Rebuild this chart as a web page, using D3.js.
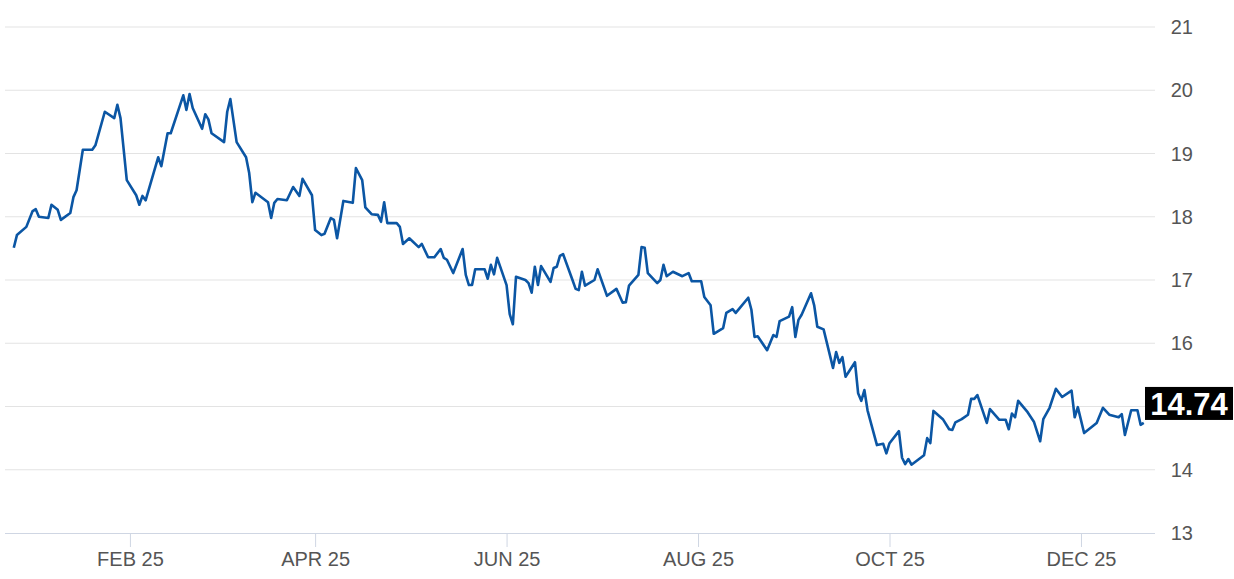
<!DOCTYPE html>
<html>
<head>
<meta charset="utf-8">
<script src="https://cdn.jsdelivr.net/npm/d3@7"></script>
<style>
  body { margin: 0; background: #fff; }
  text { font-family: "Liberation Sans", Arial, sans-serif; }
</style>
</head>
<body>
<svg id="chart" width="1234" height="579"></svg>
<script>
// day of year 2025 (Jan 1 = 1; negative = late Dec 2024)
var days = [-5,-4,-1,1,2,3,6,7,9,10,13,14,15,17,20,21,24,27,28,29,31,34,35,36,37,41,42,44,45,49,50,51,52,55,56,57,58,62,63,64,66,69,70,71,72,76,77,78,79,82,84,86,87,90,91,93,94,96,97,98,100,103,104,106,107,
  109,111,112,113,114,117,118,119,121,124,125,127,129,131,132,133,135,138,139,140,141,142,145,146,147,148,149,152,153,154,155,158,159,160,161,162,163,166,167,168,169,170,173,174,175,176,177,180,181,184,187,189,190,191,194,195,196,197,200,201,202,203,205,208,210,211,214,215,217,218,221,222,224,225,
  226,229,230,231,232,235,237,238,239,242,243,244,245,246,249,250,251,253,256,257,258,259,260,263,264,265,266,267,270,272,273,274,277,278,279,280,281,285,286,287,288,291,293,294,295,297,299,300,301,302,305,306,309,311,312,313,314,315,318,320,322,323,325,327,329,332,333,334,336,340,342,344,347,348,349,351,353,354,355];
var prices = [17.51,17.71,17.84,18.09,18.12,18.00,17.98,18.19,18.11,17.95,18.06,18.31,18.42,19.06,19.06,19.13,19.66,19.56,19.77,19.56,18.58,18.34,18.19,18.33,18.26,18.94,18.80,19.32,19.32,19.92,19.69,19.94,19.72,19.39,19.62,19.54,19.32,19.18,19.66,19.86,19.18,18.94,18.69,18.23,18.38,18.23,17.98,18.22,18.28,18.26,18.47,18.33,18.60,18.34,17.79,17.71,17.73,17.98,17.95,17.66,18.25,18.22,18.77,18.58,18.15,
  18.04,18.03,17.92,18.23,17.90,17.90,17.84,17.57,17.66,17.52,17.57,17.36,17.36,17.49,17.35,17.32,17.11,17.49,17.08,16.92,16.92,17.17,17.17,17.02,17.24,17.09,17.35,16.92,16.46,16.30,17.05,17.00,16.95,16.80,17.21,16.92,17.22,16.97,17.19,17.21,17.38,17.41,17.00,16.86,16.84,17.13,16.91,17.00,17.17,16.75,16.86,16.64,16.65,16.91,17.08,17.52,17.51,17.11,16.95,17.00,17.24,17.06,17.13,17.06,17.11,16.98,16.98,16.73,16.60,16.15,16.24,16.48,16.54,16.48,
  16.54,16.72,16.53,16.10,16.11,15.89,16.13,16.10,16.35,16.42,16.57,16.10,16.37,16.45,16.79,16.60,16.26,16.22,15.61,15.86,15.69,15.78,15.47,15.70,15.21,15.09,15.26,14.94,14.39,14.41,14.26,14.42,14.61,14.19,14.09,14.17,14.08,14.23,14.50,14.42,14.93,14.80,14.64,14.63,14.75,14.80,14.87,15.12,15.12,15.18,14.74,14.96,14.79,14.79,14.64,14.89,14.83,15.09,14.91,14.76,14.45,14.80,14.98,15.28,15.15,15.25,14.83,14.99,14.58,14.74,14.98,14.87,14.83,14.88,14.55,14.94,14.94,14.71,14.74];
var yTicks = [13, 14, 15, 16, 17, 18, 19, 20, 21];
var xTickMonths = [1, 3, 5, 7, 9, 11]; // Feb, Apr, Jun, Aug, Oct, Dec
var lastPrice = "14.74";

var base = new Date(2024, 11, 31);
function dayToDate(d) { return new Date(base.getTime() + d * 864e5); }

var svg = d3.select("#chart");
var x = d3.scaleTime()
  .domain([dayToDate(-7.8), dayToDate(355.4)])
  .range([5, 1145]);
var y = d3.scaleLinear().domain([13, 21]).range([533, 27]);

// last value box position (sits a bit above the value, covering the 15 label)
var yl = y(+lastPrice);
var boxTop = yl - 36, boxH = 33;

// gridlines
svg.append("g").selectAll("line").data(yTicks.filter(function (t) { return t > 13; }))
  .enter().append("line")
  .attr("x1", 5).attr("x2", 1155)
  .attr("y1", function (d) { return y(d); }).attr("y2", function (d) { return y(d); })
  .attr("stroke", "#e3e3e3").attr("stroke-width", 1);

// y labels, except the one hidden behind the box
svg.append("g").selectAll("text")
  .data(yTicks.filter(function (t) { return y(t) < boxTop - 8 || y(t) > boxTop + boxH + 8; }))
  .enter().append("text")
  .attr("x", 1193).attr("y", function (d) { return y(d) + 7; })
  .attr("text-anchor", "end")
  .attr("font-size", 20).attr("fill", "#555")
  .text(function (d) { return d; });

// x axis
var xAxis = d3.axisBottom(x)
  .tickValues(xTickMonths.map(function (m) { return new Date(2025, m, 1); }))
  .tickSize(14).tickPadding(9)
  .tickFormat(function (d) { return d3.timeFormat("%b")(d).toUpperCase() + " 25"; });
var gx = svg.append("g").attr("transform", "translate(0,533)").call(xAxis);
gx.select(".domain").attr("d", "M5,0.5H1155").attr("stroke", "#cfd6e3");
gx.selectAll(".tick line").attr("stroke", "#cfd6e3");
gx.selectAll(".tick text").attr("font-size", 20).attr("fill", "#555")
  .attr("font-family", "Liberation Sans, Arial, sans-serif").attr("dy", "0.5em");

// price line
var data = days.map(function (d, i) { return { date: dayToDate(d), v: prices[i] }; });
svg.append("path").datum(data)
  .attr("fill", "none").attr("stroke", "#0b56a4").attr("stroke-width", 2.6)
  .attr("stroke-linejoin", "round")
  .attr("d", d3.line().x(function (d) { return x(d.date); }).y(function (d) { return y(d.v); }));

svg.append("rect").attr("x", 1145).attr("y", boxTop).attr("width", 88).attr("height", boxH).attr("fill", "#000");
svg.append("text").attr("x", 1189).attr("y", boxTop + 28).attr("text-anchor", "middle")
  .attr("font-size", 31).attr("font-weight", "bold").attr("fill", "#fff").text(lastPrice);
</script>
</body>
</html>
